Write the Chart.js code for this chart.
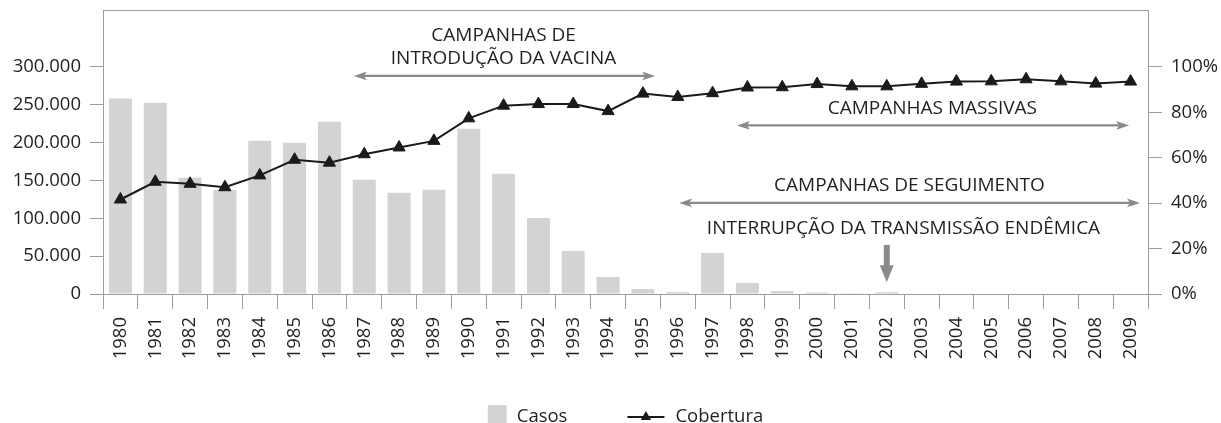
<!DOCTYPE html>
<html><head><meta charset="utf-8">
<script src="https://cdn.jsdelivr.net/npm/chart.js@4"></script>
<style>html,body{margin:0;padding:0;background:#fff}#wrap{width:1221px;height:423px;position:relative;overflow:hidden}</style>
</head><body><div id="wrap"><canvas id="c" width="1221" height="423"></canvas></div>
<script>
const years = ['1980','1981','1982','1983','1984','1985','1986','1987','1988','1989','1990','1991','1992','1993','1994','1995','1996','1997','1998','1999','2000','2001','2002','2003','2004','2005','2006','2007','2008','2009'];
const casos = [258000,252600,153400,137600,202400,199700,227500,150800,133800,137600,218300,158700,100500,56900,22500,6600,2600,54200,14600,4000,2000,1000,2500,0,0,0,0,0,0,0];
const cobertura = [41.6,49.4,48.5,47.0,52.2,59.1,57.8,61.5,64.5,67.4,77.3,82.9,83.6,83.6,80.5,88.2,86.7,88.4,90.9,91.0,92.4,91.4,91.4,92.5,93.5,93.6,94.5,93.6,92.6,93.5];
const casosTicks = [0,50000,100000,150000,200000,250000,300000];
const coberturaTicks = [0,20,40,60,80,100];
const seriesNames = ['Casos','Cobertura'];

const TEXT = '#231f20';
const AXIS = '#9d9d9d';
const ARROW = '#8a8a8a';
const BAR = '#d1d3d4';
const FONT = '"Open Sans", sans-serif';

function fmtThousands(v){ return String(v).replace(/\B(?=(\d{3})+(?!\d))/g, '.'); }

// annotation layout, in data coordinates (category index / coverage %)
const notes = {
  arrows: [
    {from: 6.70, to: 15.35, at: 96.0},
    {from: 17.70, to: 28.96, at: 74.2},
    {from: 16.04, to: 29.27, at: 40.1}
  ],
  texts: [
    {text: 'CAMPANHAS DE', x: 11.0, at: 111.2},
    {text: 'INTRODUÇÃO DA VACINA', x: 11.0, at: 101.2},
    {text: 'CAMPANHAS MASSIVAS', x: 23.31, at: 79.2},
    {text: 'CAMPANHAS DE SEGUIMENTO', x: 22.65, at: 45.3},
    {text: 'INTERRUPÇÃO DA TRANSMISSÃO ENDÊMICA', x: 22.48, at: 26.4}
  ],
  down: {x: 22, from: 21.6, to: 5.2}
};

function hArrow(ctx, x1, x2, y){
  const hl = 13, hh = 4.3, notch = 3;
  ctx.save();
  ctx.strokeStyle = ARROW; ctx.fillStyle = ARROW; ctx.lineWidth = 2.3;
  ctx.beginPath(); ctx.moveTo(x1 + hl - notch, y); ctx.lineTo(x2 - hl + notch, y); ctx.stroke();
  ctx.beginPath();
  ctx.moveTo(x1, y); ctx.lineTo(x1 + hl, y - hh); ctx.lineTo(x1 + hl - notch, y); ctx.lineTo(x1 + hl, y + hh); ctx.closePath(); ctx.fill();
  ctx.beginPath();
  ctx.moveTo(x2, y); ctx.lineTo(x2 - hl, y - hh); ctx.lineTo(x2 - hl + notch, y); ctx.lineTo(x2 - hl, y + hh); ctx.closePath(); ctx.fill();
  ctx.restore();
}

const annotationPlugin = {
  id: 'notes',
  afterDatasetsDraw(chart){
    const ctx = chart.ctx, xs = chart.scales.x, ys = chart.scales.y1, ca = chart.chartArea;
    ctx.save();
    ctx.strokeStyle = AXIS; ctx.lineWidth = 1;
    ctx.beginPath(); ctx.moveTo(ca.left, ca.top + 0.5); ctx.lineTo(ca.right, ca.top + 0.5); ctx.stroke();
    ctx.restore();
    notes.arrows.forEach(a => hArrow(ctx, xs.getPixelForValue(a.from), xs.getPixelForValue(a.to), ys.getPixelForValue(a.at)));
    ctx.save();
    ctx.fillStyle = TEXT; ctx.font = '19px ' + FONT; ctx.textAlign = 'center'; ctx.textBaseline = 'alphabetic';
    notes.texts.forEach(t => ctx.fillText(t.text, xs.getPixelForValue(t.x), ys.getPixelForValue(t.at)));
    ctx.restore();
    const dx = xs.getPixelForValue(notes.down.x), y1 = ys.getPixelForValue(notes.down.from), y2 = ys.getPixelForValue(notes.down.to);
    ctx.save();
    ctx.fillStyle = ARROW;
    ctx.fillRect(dx - 3, y1, 6, (y2 - y1) - 15);
    ctx.beginPath(); ctx.moveTo(dx - 7, y2 - 17); ctx.lineTo(dx + 7, y2 - 17); ctx.lineTo(dx, y2); ctx.closePath(); ctx.fill();
    ctx.restore();
  },
  afterDraw(chart){
    const ctx = chart.ctx, ca = chart.chartArea;
    const barDs = chart.data.datasets.find(d => d.type === 'bar');
    const lineDs = chart.data.datasets.find(d => d.type === 'line');
    ctx.save();
    ctx.font = '18.5px ' + FONT; ctx.textBaseline = 'alphabetic';
    const w1 = ctx.measureText(barDs.label).width, w2 = ctx.measureText(lineDs.label).width;
    const box = 19, gap1 = 10, between = 60, lineW = 37, gap2 = 11;
    const total = box + gap1 + w1 + between + lineW + gap2 + w2;
    let x = (ca.left + ca.right) / 2 - total / 2;
    const base = 422, mid = 417;
    ctx.fillStyle = barDs.backgroundColor; ctx.fillRect(x, 405, box, box);
    x += box + gap1;
    ctx.fillStyle = TEXT; ctx.fillText(barDs.label, x, base);
    x += w1 + between;
    ctx.strokeStyle = lineDs.borderColor; ctx.lineWidth = 2;
    ctx.beginPath(); ctx.moveTo(x, mid); ctx.lineTo(x + lineW, mid); ctx.stroke();
    const cx = x + lineW / 2, r = 6;
    ctx.fillStyle = lineDs.pointBackgroundColor;
    ctx.beginPath();
    ctx.moveTo(cx, mid - r); ctx.lineTo(cx + r * 0.866, mid + r * 0.5); ctx.lineTo(cx - r * 0.866, mid + r * 0.5); ctx.closePath(); ctx.fill();
    x += lineW + gap2;
    ctx.fillStyle = TEXT; ctx.fillText(lineDs.label, x, base);
    ctx.restore();
  }
};

const tickFont = {family: FONT, size: 18.5};
function fixBox(size){
  return function(scale){
    scale.paddingTop = 0; scale.paddingBottom = 0; scale.paddingLeft = 0; scale.paddingRight = 0;
    if (scale.isHorizontal()) scale.height = size; else scale.width = size;
  };
}

new Chart(document.getElementById('c'), {
  data: {
    labels: years,
    datasets: [
      {type: 'line', label: seriesNames[1], data: cobertura, yAxisID: 'y1', borderColor: '#1a1a1a', borderWidth: 2,
       pointStyle: 'triangle', pointRadius: 7, pointBackgroundColor: '#1a1a1a', pointBorderColor: '#1a1a1a', pointBorderWidth: 1,
       tension: 0, order: 0},
      {type: 'bar', label: seriesNames[0], data: casos, yAxisID: 'y', backgroundColor: BAR,
       barPercentage: 0.66, categoryPercentage: 1, order: 1}
    ]
  },
  options: {
    responsive: false, animation: false, devicePixelRatio: 1,
    layout: {padding: {left: 0, right: 0, top: 10, bottom: 0}},
    plugins: {legend: {display: false}, tooltip: {enabled: false}},
    scales: {
      x: {
        offset: true,
        afterFit: fixBox(129),
        grid: {display: true, drawOnChartArea: false, offset: true, tickLength: 15, color: AXIS},
        border: {color: AXIS},
        ticks: {minRotation: 90, maxRotation: 90, padding: 8, color: TEXT, font: tickFont, autoSkip: false}
      },
      y: {
        position: 'left', min: 0, max: 375000,
        afterFit: fixBox(103),
        afterBuildTicks: a => { a.ticks = casosTicks.map(v => ({value: v})); },
        grid: {display: true, drawOnChartArea: false, tickLength: 13, color: AXIS},
        border: {color: AXIS},
        ticks: {padding: 9, color: TEXT, font: tickFont, callback: v => fmtThousands(v)}
      },
      y1: {
        position: 'right', min: 0, max: 125,
        afterFit: fixBox(73),
        afterBuildTicks: a => { a.ticks = coberturaTicks.map(v => ({value: v})); },
        grid: {display: true, drawOnChartArea: false, tickLength: 14, color: AXIS},
        border: {color: AXIS},
        ticks: {padding: 9, color: TEXT, font: tickFont, callback: v => v + '%'}
      }
    }
  },
  plugins: [annotationPlugin]
});
</script>
</body></html>
